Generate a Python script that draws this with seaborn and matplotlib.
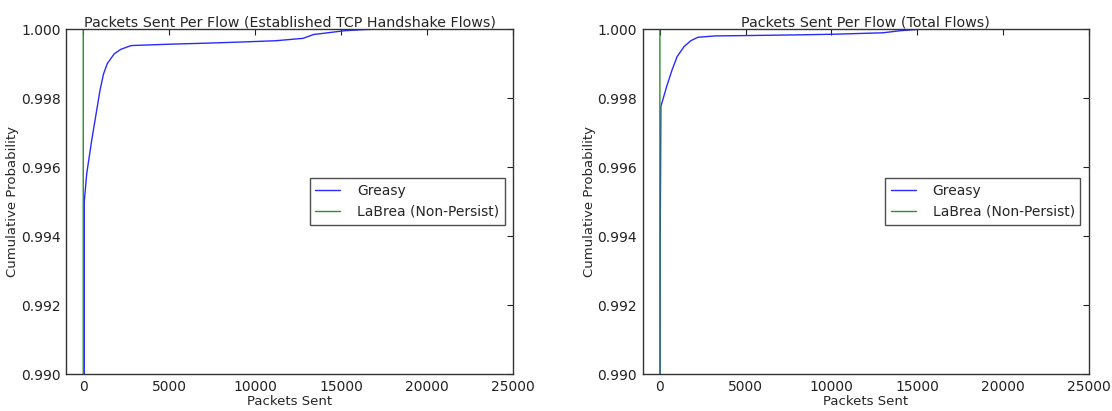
import numpy as np
import pandas as pd
import matplotlib
matplotlib.use("Agg")
import matplotlib.pyplot as plt
import seaborn as sns

# Greasy CDF, established TCP handshake flows
est_greasy_x = [60, 60, 200, 500, 800, 980, 1180, 1400, 1800, 2180, 2780, 5000, 7185,
                9000, 11190, 12790, 13390, 15190, 16200, 17190, 20600]
est_greasy_y = [0.980, 0.9950, 0.9958, 0.9968, 0.9977, 0.99824, 0.99870, 0.99900,
                0.99928, 0.99941, 0.99952, 0.99956, 0.99959, 0.99962, 0.99966,
                0.99973, 0.99984, 0.99995, 0.99998, 1.0, 1.0]

# LaBrea (Non-Persist) CDF, established flows
est_labrea_x = [0, 0, 5, 20]
est_labrea_y = [0.980, 0.9999, 1.0, 1.0]

# Greasy CDF, total flows
tot_greasy_x = [0, 20, 60, 400, 700, 1005, 1407, 1800, 2210, 3215, 5000, 8000,
                10250, 12260, 13000, 14000, 15070, 16000, 17300]
tot_greasy_y = [0.980, 0.9940, 0.99776, 0.99834, 0.9988, 0.9992, 0.99949, 0.99966,
                0.99976, 0.9998, 0.99981, 0.99983, 0.99985, 0.99988, 0.99989,
                0.99995, 0.99999, 1.0, 1.0]

# LaBrea (Non-Persist) CDF, total flows
tot_labrea_x = [0, 0, 5, 20]
tot_labrea_y = [0.980, 0.9999, 1.0, 1.0]

panel_titles = ["Packets Sent Per Flow (Established TCP Handshake Flows)",
                "Packets Sent Per Flow (Total Flows)"]
series_names = ["Greasy", "LaBrea (Non-Persist)"]
y_ticks = [0.990, 0.992, 0.994, 0.996, 0.998, 1.000]
x_ticks = [0, 5000, 10000, 15000, 20000, 25000]

sns.set_style("white")
plt.rcParams['font.family'] = ['DejaVu Sans']

fig = plt.figure(figsize=(11.12, 4.11), dpi=100)
ax1 = fig.add_axes([0.0594, 0.090, 0.402, 0.8394])
ax2 = fig.add_axes([0.578, 0.090, 0.401, 0.8394])

panels = [
    (ax1, est_greasy_x, est_greasy_y, est_labrea_x, est_labrea_y),
    (ax2, tot_greasy_x, tot_greasy_y, tot_labrea_x, tot_labrea_y),
]

for i, (ax, gx, gy, lx, ly) in enumerate(panels):
    df = pd.concat([
        pd.DataFrame({"x": gx, "y": gy, "series": series_names[0]}),
        pd.DataFrame({"x": lx, "y": ly, "series": series_names[1]}),
    ], ignore_index=True)
    sns.lineplot(data=df, x="x", y="y", hue="series", estimator=None, sort=False,
                 palette={series_names[0]: "#2a2aff", series_names[1]: "#2e8b2e"},
                 linewidth=1.0, ax=ax)
    ax.set_xlim(-1000, 25000)
    ax.set_ylim(0.990, 1.000)
    ax.set_xticks(x_ticks)
    ax.set_yticks(y_ticks)
    ax.set_yticklabels([f"{v:.3f}" for v in y_ticks])
    ax.set_title(panel_titles[i], fontsize=10.3, pad=2)
    ax.set_xlabel("Packets Sent", fontsize=9.5, labelpad=1)
    ax.set_ylabel("Cumulative Probability", fontsize=9.5, labelpad=1)
    ax.tick_params(direction="in", top=True, right=True, length=4, width=0.8,
                   labelsize=10, colors="#222222", pad=4)
    for s in ax.spines.values():
        s.set_color("#333333")
        s.set_linewidth(1.0)
    leg = ax.legend(loc="center right", fontsize=10, frameon=True, fancybox=False,
                    borderaxespad=0.6, handlelength=1.8, handletextpad=1.2)
    leg.get_frame().set_edgecolor("#222222")
    leg.get_frame().set_linewidth(1.0)

fig.savefig("out.png", dpi=100)
